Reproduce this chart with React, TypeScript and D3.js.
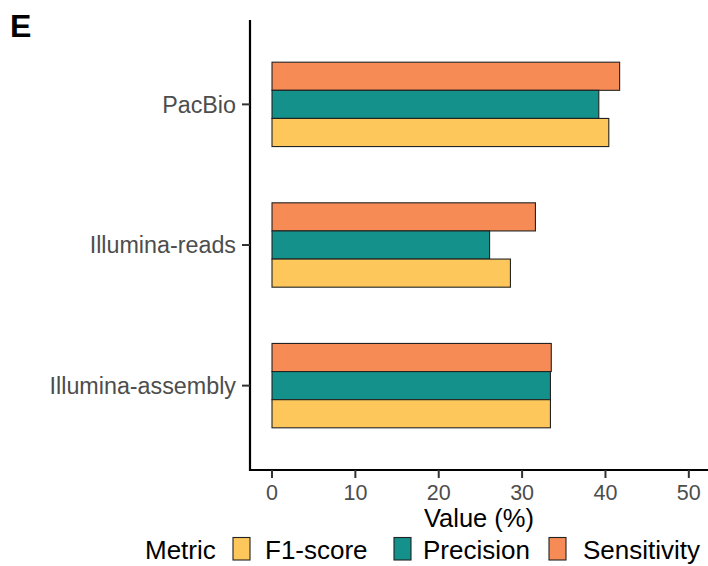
import React from "react";
import { scaleLinear, scalePoint, scaleBand } from "d3";

const platforms = ["PacBio", "Illumina-reads", "Illumina-assembly"];
const metrics = ["Sensitivity", "Precision", "F1-score"];
const sensitivity = [41.7, 31.6, 33.5];
const precision = [39.2, 26.1, 33.4];
const f1score = [40.4, 28.6, 33.4];
const xTicks = [0, 10, 20, 30, 40, 50];

const colors: Record<string, string> = {
  "F1-score": "#FDC75B",
  Precision: "#13918A",
  Sensitivity: "#F68B56",
};

const values: Record<string, number[]> = {
  Sensitivity: sensitivity,
  Precision: precision,
  "F1-score": f1score,
};

const font = "'Liberation Sans', Arial, Helvetica, sans-serif";

const App = () => {
  const width = 708;
  const height = 566;
  const left = 250;
  const right = 708;
  const top = 20;
  const bottom = 470;

  const x = scaleLinear().domain([-2.64, 52.3]).range([left, right]);
  const y = scalePoint().domain(platforms).range([top, bottom]).padding(0.6);
  const groupH = y.step() * 0.6;
  const inner = scaleBand().domain(metrics).range([-groupH / 2, groupH / 2]);

  // legend keys, left to right
  const legendItems = [
    { key: "F1-score", box: 233, text: 265 },
    { key: "Precision", box: 394, text: 423 },
    { key: "Sensitivity", box: 549, text: 583 },
  ];

  return (
    <svg
      width={width}
      height={height}
      style={{ position: "absolute", left: 0, top: 0, background: "#fff" }}
      fontFamily={font}
    >
      <text x={10} y={37} fontSize={32} fontWeight="bold" fill="#000">
        E
      </text>

      {platforms.map((p, i) =>
        metrics.map((m) => (
          <rect
            key={p + m}
            x={x(0)}
            y={(y(p) as number) + (inner(m) as number)}
            width={x(values[m][i]) - x(0)}
            height={inner.bandwidth()}
            fill={colors[m]}
            stroke="#222"
            strokeWidth={1.1}
          />
        ))
      )}

      <line x1={left} x2={left} y1={top} y2={bottom + 1} stroke="#000" strokeWidth={2.2} />
      <line x1={left - 1} x2={right} y1={bottom} y2={bottom} stroke="#000" strokeWidth={2.2} />

      {platforms.map((p) => (
        <g key={p} transform={`translate(0,${y(p)})`}>
          <line x1={left - 8} x2={left} stroke="#333" strokeWidth={2} />
          <text x={left - 14} dy="0.35em" textAnchor="end" fontSize={23.3} fill="#4D4D4D">
            {p}
          </text>
        </g>
      ))}

      {xTicks.map((t) => (
        <g key={t} transform={`translate(${x(t)},0)`}>
          <line y1={bottom} y2={bottom + 8} stroke="#333" strokeWidth={2} />
          <text y={499.5} textAnchor="middle" fontSize={21.5} fill="#4D4D4D">
            {t}
          </text>
        </g>
      ))}

      <text x={(left + right) / 2} y={527} textAnchor="middle" fontSize={25.5} fill="#000">
        Value (%)
      </text>

      <text x={145} y={559} fontSize={26} fill="#000">
        Metric
      </text>
      {legendItems.map((d) => (
        <g key={d.key}>
          <rect
            x={d.box}
            y={537.5}
            width={17}
            height={22.5}
            fill={colors[d.key]}
            stroke="#222"
            strokeWidth={1.1}
          />
          <text x={d.text} y={559} fontSize={26} fill="#000">
            {d.key}
          </text>
        </g>
      ))}
    </svg>
  );
};

export default App;
